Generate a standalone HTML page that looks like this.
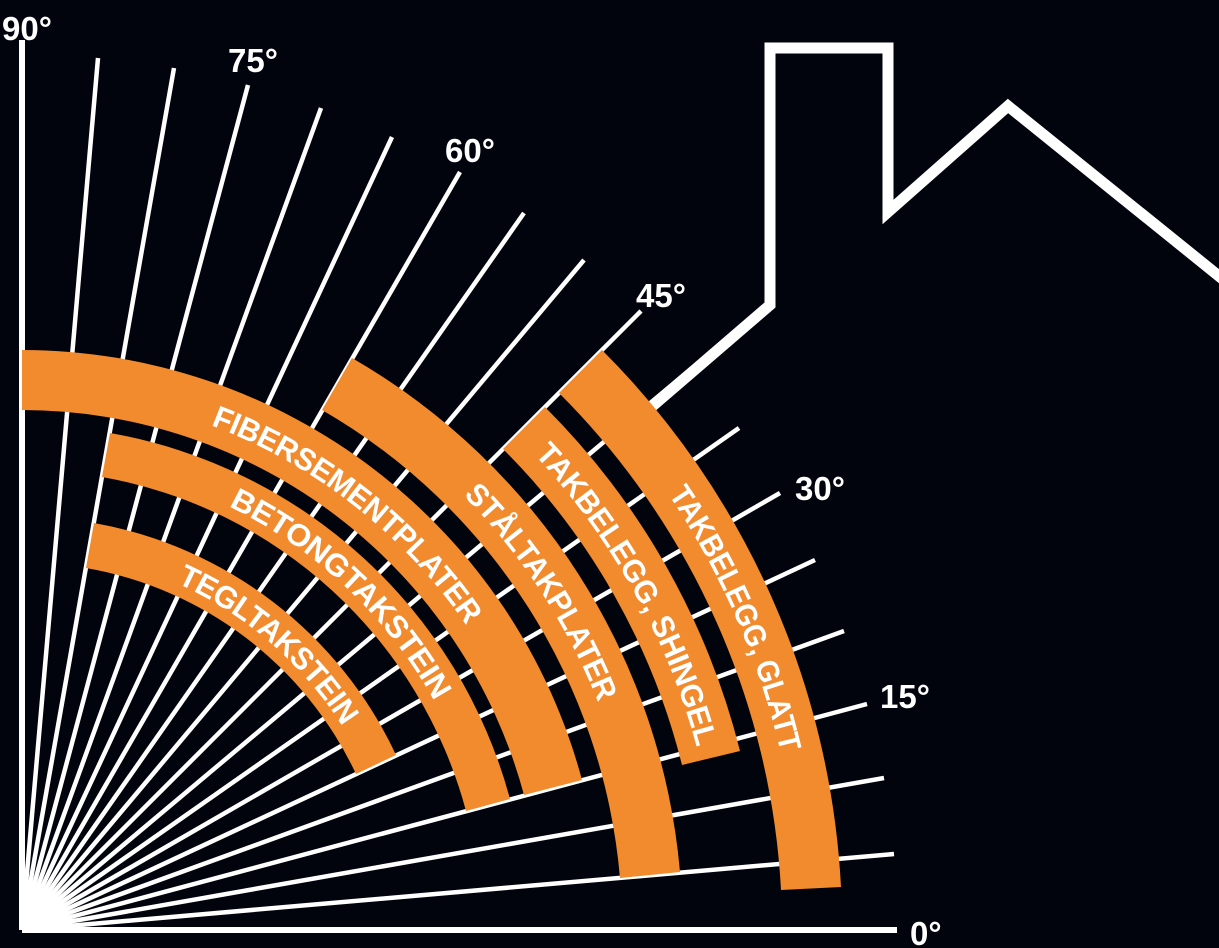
<!DOCTYPE html>
<html><head><meta charset="utf-8"><style>
html,body{margin:0;padding:0;background:#02040d;}
svg{display:block;}
.lab{font-family:"Liberation Sans",sans-serif;font-weight:bold;font-size:33px;fill:#fff;}
.bt{font-family:"Liberation Sans Narrow","Liberation Sans",sans-serif;font-weight:bold;font-size:31px;fill:#fff;}
</style></head><body>
<svg width="1219" height="948" viewBox="0 0 1219 948" xmlns="http://www.w3.org/2000/svg">
<rect width="1219" height="948" fill="#02040d"/>
<g stroke="#fff" stroke-width="4.5" stroke-linecap="butt">
<line x1="22" y1="930" x2="897" y2="930" stroke-width="6"/>
<line x1="22" y1="930" x2="894" y2="854"/>
<line x1="22" y1="930" x2="884" y2="778"/>
<line x1="22" y1="930" x2="867" y2="704"/>
<line x1="22" y1="930" x2="844" y2="631"/>
<line x1="22" y1="930" x2="815" y2="560"/>
<line x1="22" y1="930" x2="780" y2="493"/>
<line x1="22" y1="930" x2="739" y2="428"/>
<line x1="22" y1="930" x2="692" y2="368"/>
<line x1="22" y1="930" x2="641" y2="311"/>
<line x1="22" y1="930" x2="584" y2="260"/>
<line x1="22" y1="930" x2="524" y2="213"/>
<line x1="22" y1="930" x2="460" y2="172"/>
<line x1="22" y1="930" x2="392" y2="137"/>
<line x1="22" y1="930" x2="321" y2="108"/>
<line x1="22" y1="930" x2="248" y2="85"/>
<line x1="22" y1="930" x2="174" y2="68"/>
<line x1="22" y1="930" x2="98" y2="58"/>
<line x1="22" y1="930" x2="22" y2="40" stroke-width="6"/>
</g>
<path d="M22,930 L22,895 A35,35 0 0 1 57,930 Z" fill="#fff"/>
<polyline points="648,410 770,305 770,48 888,48 888,212 1008,106 1230,285" fill="none" stroke="#fff" stroke-width="11" stroke-linejoin="miter"/>
<g fill="#f28a2e">
<path d="M22,350 A580,580 0 0 1 582,780 L524,795 A520,520 0 0 0 22,410 Z"/>
<path d="M110,433 A505,505 0 0 1 510,799 L466,811 A460,460 0 0 0 102,477 Z"/>
<path d="M94,523 A413,413 0 0 1 396,755 L356,774 A368,368 0 0 0 86,568 Z"/>
<path d="M352,358 A660,660 0 0 1 680,872 L620,878 A600,600 0 0 0 322,410 Z"/>
<path d="M545,407 A740,740 0 0 1 740,751 L682,765 A680,680 0 0 0 503,449 Z"/>
<path d="M602,350 A820,820 0 0 1 841,887 L781,890 A760,760 0 0 0 559,393 Z"/>
</g>
<defs>
<path id="p1" d="M22,380 A550,550 0 0 1 553,788"/>
<path id="p2" d="M106,455 A482,482 0 0 1 488,805"/>
<path id="p3" d="M90,545 A391,391 0 0 1 376,765"/>
<path id="p4" d="M337,384 A630,630 0 0 1 650,875"/>
<path id="p5" d="M524,428 A710,710 0 0 1 711,758"/>
<path id="p6" d="M581,371 A790,790 0 0 1 811,889"/>
</defs>
<g class="bt" text-anchor="middle">
<text dy="11"><textPath href="#p1" startOffset="50.7%" textLength="336" lengthAdjust="spacingAndGlyphs">FIBERSEMENTPLATER</textPath></text>
<text dy="11"><textPath href="#p2" startOffset="51.5%" textLength="294" lengthAdjust="spacingAndGlyphs">BETONGTAKSTEIN</textPath></text>
<text dy="11"><textPath href="#p3" startOffset="56%" textLength="228" lengthAdjust="spacingAndGlyphs">TEGLTAKSTEIN</textPath></text>
<text dy="11"><textPath href="#p4" startOffset="49%" textLength="253" lengthAdjust="spacingAndGlyphs">STÅLTAKPLATER</textPath></text>
<text dy="11"><textPath href="#p5" startOffset="51.6%" textLength="343" lengthAdjust="spacingAndGlyphs">TAKBELEGG, SHINGEL</textPath></text>
<text dy="11"><textPath href="#p6" startOffset="51%" textLength="287" lengthAdjust="spacingAndGlyphs">TAKBELEGG, GLATT</textPath></text>
</g>
<g class="lab">
<text x="2" y="40">90°</text>
<text x="228" y="72">75°</text>
<text x="445" y="162">60°</text>
<text x="636" y="307">45°</text>
<text x="795" y="500">30°</text>
<text x="880" y="708">15°</text>
<text x="910" y="945">0°</text>
</g>
</svg>
</body></html>
